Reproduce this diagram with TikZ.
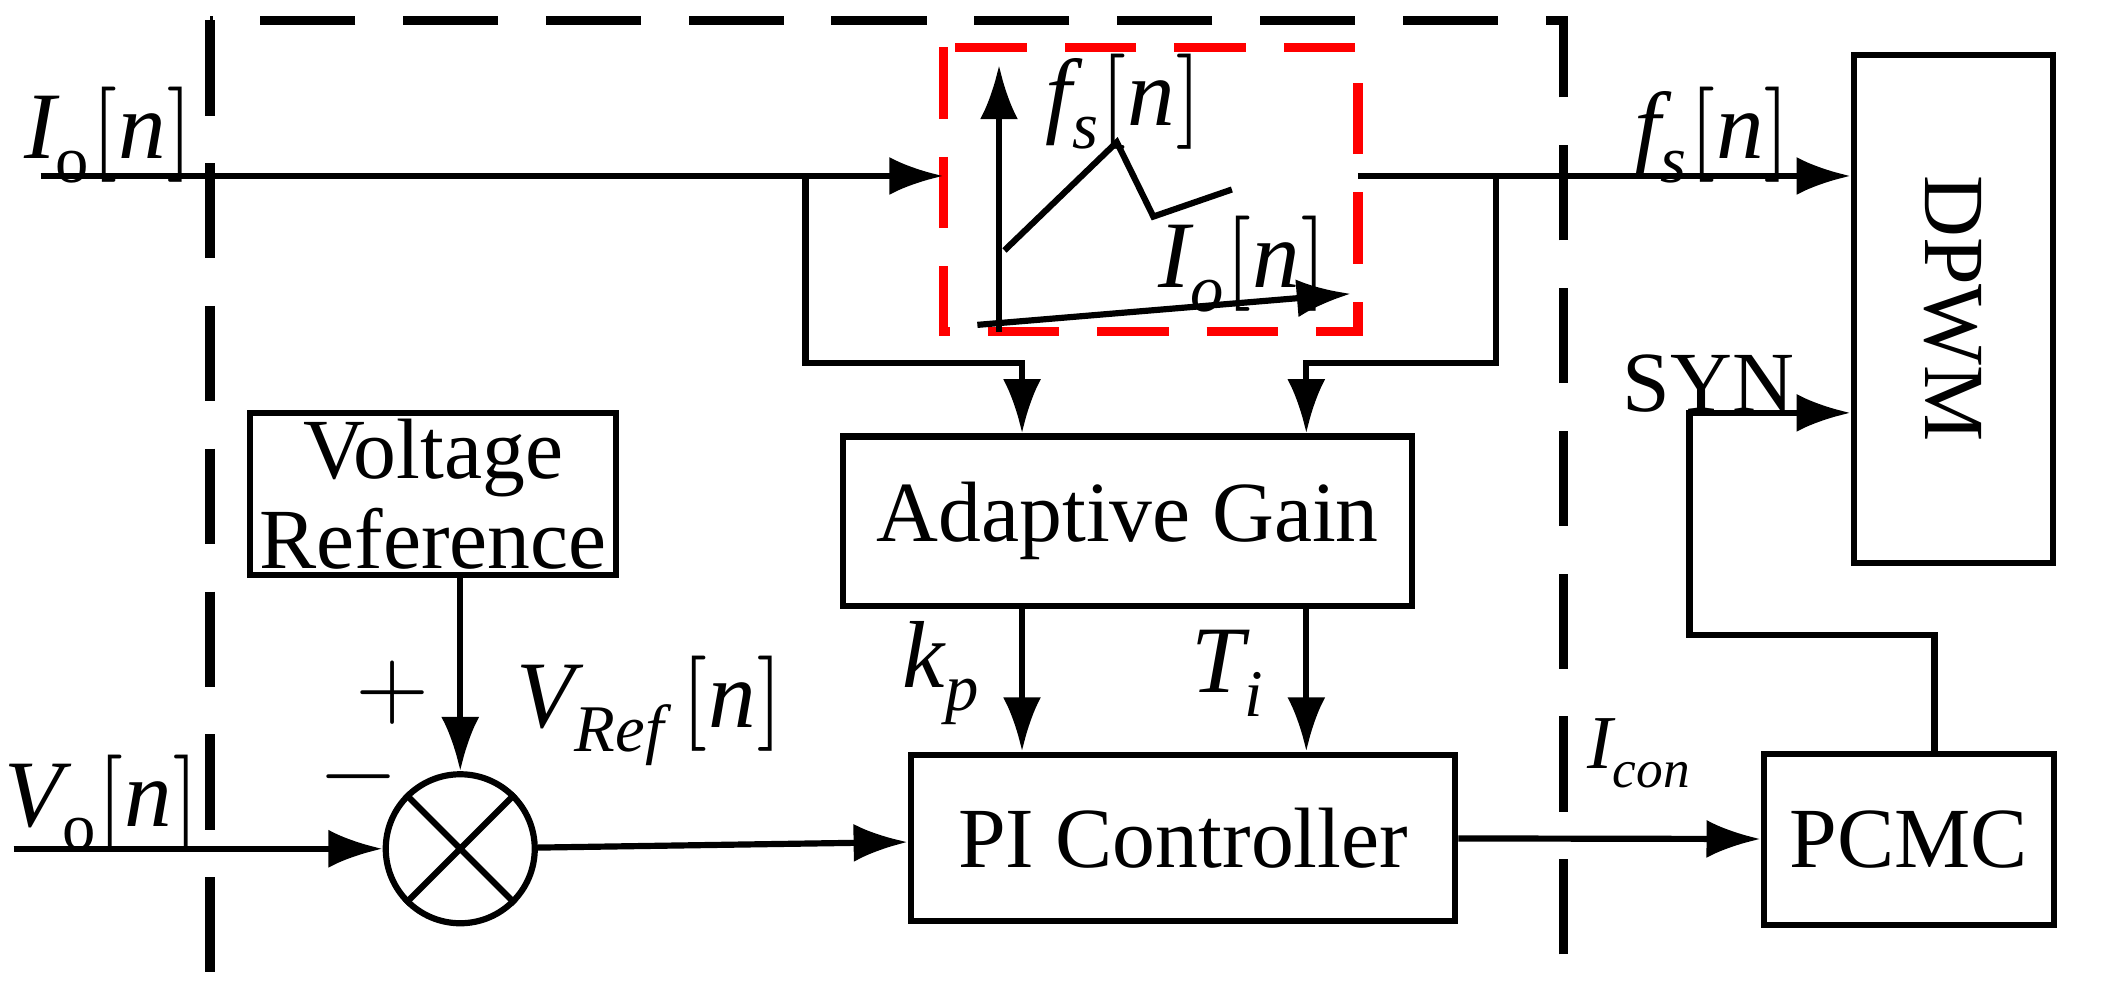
\documentclass[tikz,border=0pt]{standalone}
\usepackage{fontspec}
\setmainfont{Liberation Serif}
\usepackage{unicode-math}
\setmathfont{Latin Modern Math}
\setmathrm{Liberation Serif}
\setmathfont[range=it]{Liberation Serif Italic}
\usetikzlibrary{positioning,arrows.meta}
\tikzset{
  blk/.style={draw, line width=1.3pt, inner sep=0pt, align=center, font=\fontsize{18}{21}\selectfont},
  sig/.style={line width=1.3pt, -{Latex[length=4mm,width=2.8mm]}},
  ln/.style={line width=1.3pt},
  lbl/.style={font=\fontsize{20}{24}\selectfont, inner sep=0pt}
}
\begin{document}
\begin{tikzpicture}[x=0.01cm,y=-0.01cm]
    \useasboundingbox (0,0) rectangle (1572,737);
    % frames
    \draw[line width=2pt, dash pattern=on 20pt off 10pt] (155,15) rectangle (1155,915);
    \draw[line width=2pt, red, dash pattern=on 15pt off 8pt] (697,35) rectangle (1003,245);
    % blocks
    \node[blk, minimum width=4.2cm, minimum height=1.25cm] (gain) at (833,385) {Adaptive Gain};
    \node[blk, minimum width=4.02cm, minimum height=1.23cm] (pi) at (874,619) {PI Controller};
    \node[blk, minimum width=2.7cm, minimum height=1.2cm] (vref) at (320,365) {Voltage\\[-2pt]Reference};
    \node[blk, minimum width=2.14cm, minimum height=1.26cm] (pcmc) at (1410,620) {PCMC};
    \node[blk, minimum width=1.47cm, minimum height=3.75cm] (dpwm) at (1443,228) {\rotatebox{-90}{DPWM}};
    \node[draw, circle, line width=1.3pt, minimum size=1.1cm] (sum) at (340,627) {};
    \draw[ln] (sum.north east) -- (sum.south west) (sum.north west) -- (sum.south east);
    % lookup curve
    \draw[sig] (738,245) -- (738,48);
    \draw[sig] (722,240) -- (998,217);
    \draw[ln] (742,185) -- (825,105) -- (852,160) -- (910,140);
    \node[lbl] at (830,75) {$f_s[n]$};
    \node[lbl] at (918,195) {$I_o[n]$};
    % signals
    \coordinate (iin) at (30,130);
    \coordinate (ib) at (595,130);
    \coordinate (fb) at (1105,130);
    \draw[sig] (iin) -- (697,130);
    \node[lbl] at (80,100) {$I_{\mathrm{o}}[n]$};
    \draw[sig] (ib) |- (755,268) -- (gain.north -| 755,0);
    \draw[sig] (1003,130) -- (dpwm.west |- 0,130);
    \node[lbl] at (1265,100) {$f_s[n]$};
    \draw[sig] (fb) |- (965,268) -- (gain.north -| 965,0);
    \draw[sig] (gain.south -| 755,0) -- node[lbl, left=8pt, pos=0.45] {$k_p$} (pi.north -| 755,0);
    \draw[sig] (gain.south -| 965,0) -- node[lbl, left=8pt, pos=0.45] {$T_i$} (pi.north -| 965,0);
    \draw[sig] (10,627) -- (sum);
    \node[lbl] at (75,593) {$V_{\mathrm{o}}[n]$};
    \node[lbl] at (265,582) {$-$};
    \node[lbl] at (290,512) {$+$};
    \draw[sig] (sum |- vref.south) -- (sum);
    \node[lbl] at (480,525) {$V_{Ref}\,[n]$};
    \draw[sig] (sum) -- (pi);
    \draw[sig] (pi) -- node[lbl, above=10pt, pos=0.6, font=\fontsize{16}{19}\selectfont] {$I_{con}$} (pcmc);
    \draw[sig] (pcmc.north -| 1429,0) |- (1248,469) |- (dpwm.west |- 0,305);
    \node[lbl, font=\fontsize{18}{21}\selectfont] at (1262,283) {SYN};
\end{tikzpicture}
\end{document}
